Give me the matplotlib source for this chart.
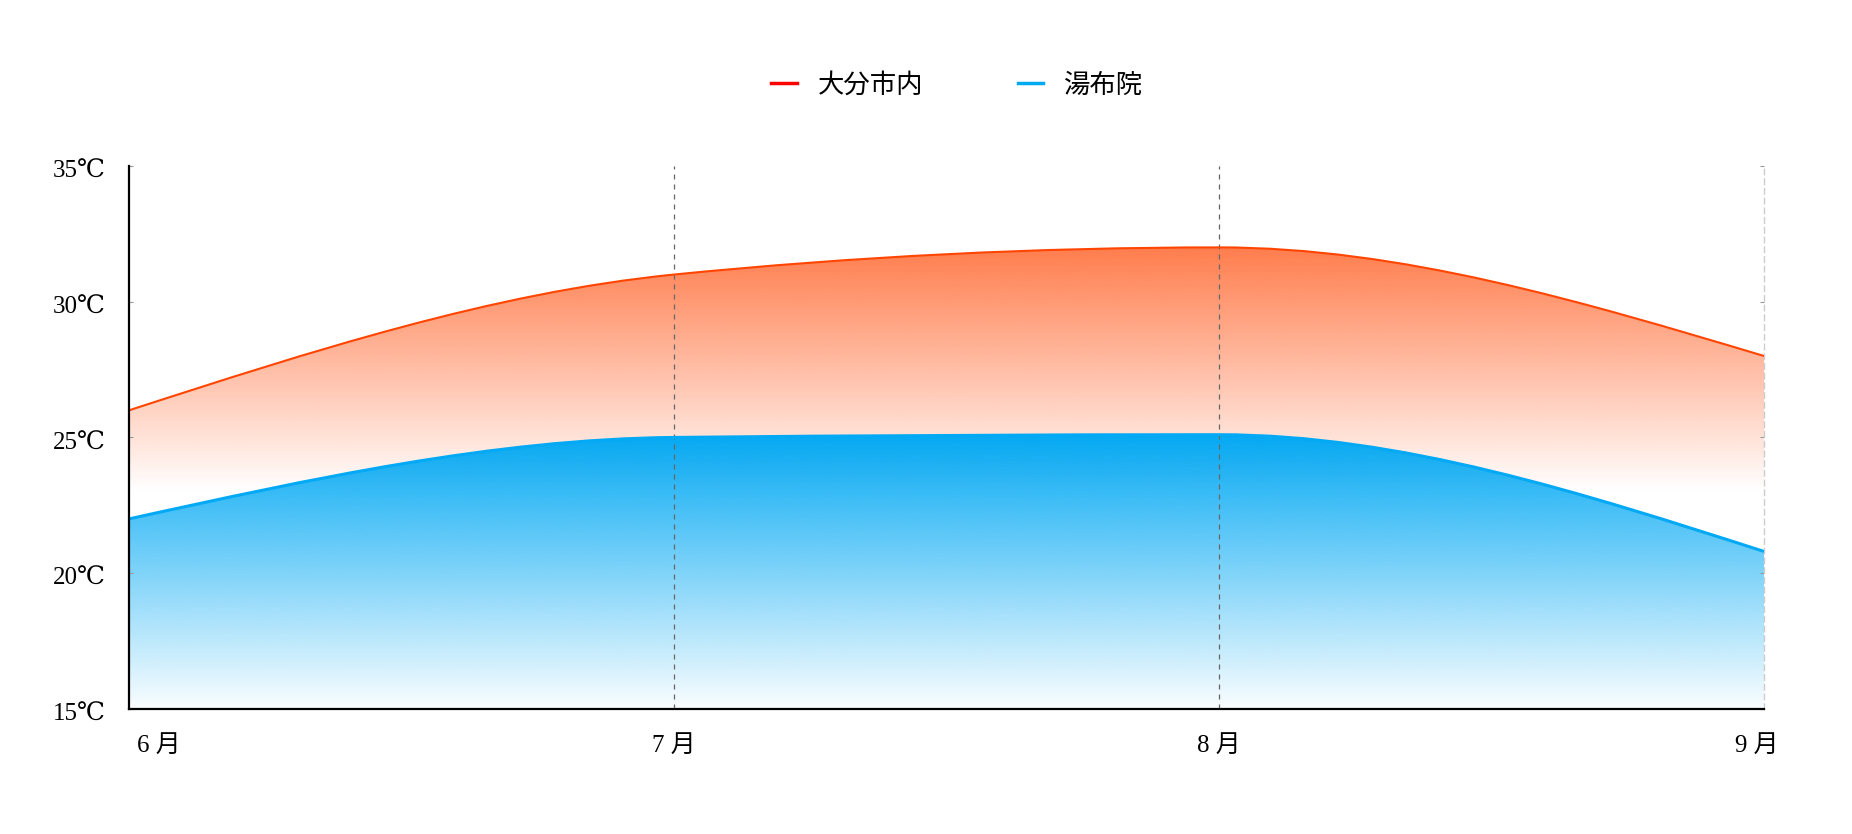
import matplotlib
matplotlib.use('Agg')
import matplotlib.pyplot as plt
import matplotlib.transforms as mtransforms
import numpy as np
from matplotlib.path import Path
from matplotlib.patches import PathPatch
from matplotlib.colors import to_rgb
from matplotlib.lines import Line2D

plt.rcParams['font.family'] = ['Liberation Serif', 'DejaVu Serif', 'Noto Sans CJK JP']

months = ['6 月', '7 月', '8 月', '9 月']
oita = [26, 31, 32, 28]          # 大分市内
yufuin = [22, 25, 25.1, 20.8]    # 湯布院
yticks = [15, 20, 25, 30, 35]
ylabels = ['15℃', '20℃', '25℃', '30℃', '35℃']

red_line = '#FF4500'
blue_line = '#03A9F4'


def monotone_verts(x, y):
    # cubic bezier control points like d3.curveMonotoneX
    x = np.asarray(x, float)
    y = np.asarray(y, float)
    h = np.diff(x)
    s = np.diff(y) / h
    n = len(x)
    m = np.zeros(n)
    for i in range(1, n - 1):
        p = (s[i - 1] * h[i] + s[i] * h[i - 1]) / (h[i - 1] + h[i])
        m[i] = (np.sign(s[i - 1]) + np.sign(s[i])) * min(abs(s[i - 1]), abs(s[i]), 0.5 * abs(p))
    m[0] = (3 * s[0] - m[1]) / 2
    m[-1] = (3 * s[-1] - m[-2]) / 2
    verts = [(x[0], y[0])]
    codes = [Path.MOVETO]
    for i in range(n - 1):
        d = h[i] / 3
        verts += [(x[i] + d, y[i] + m[i] * d), (x[i + 1] - d, y[i + 1] - m[i + 1] * d), (x[i + 1], y[i + 1])]
        codes += [Path.CURVE4] * 3
    return verts, codes


def gradient_area(ax, x, y, color, y0, y1, a0, a1, base=15):
    verts, codes = monotone_verts(x, y)
    fverts = verts + [(x[-1], base), (x[0], base), (x[0], y[0])]
    fcodes = codes + [Path.LINETO, Path.LINETO, Path.CLOSEPOLY]
    patch = PathPatch(Path(fverts, fcodes), facecolor='none', edgecolor='none')
    ax.add_patch(patch)
    yy = np.linspace(base, max(y), 400)
    alpha = np.clip((yy - y0) / (y1 - y0), 0, 1) * (a1 - a0) + a0
    img = np.zeros((len(yy), 1, 4))
    img[:, 0, :3] = to_rgb(color)
    img[:, 0, 3] = alpha
    im = ax.imshow(img, extent=[x[0], x[-1], base, max(y)], origin='lower',
                   aspect='auto', interpolation='bilinear', zorder=1)
    im.set_clip_path(patch)
    line = PathPatch(Path(verts, codes), facecolor='none', zorder=3)
    ax.add_patch(line)
    return line


fig = plt.figure(figsize=(18.52, 8.34), dpi=100)
ax = fig.add_axes([0.0697, 0.150, 0.8828, 0.651])
xs = np.arange(len(months))

l1 = gradient_area(ax, xs, oita, red_line, 23, 32, 0.0, 0.7)
l1.set_edgecolor(red_line)
l1.set_linewidth(1.5)
l2 = gradient_area(ax, xs, yufuin, blue_line, 15, 25.1, 0.02, 1.0)
l2.set_edgecolor(blue_line)
l2.set_linewidth(2.2)
l2.set_zorder(4)

for xv in xs[1:3]:
    ax.axvline(xv, color='#666666', linestyle=(0, (4, 4)), linewidth=0.9, zorder=2)

ax.set_xlim(xs[0], xs[-1])
ax.set_ylim(15, 35)
ax.set_yticks(yticks)
ax.set_yticklabels(ylabels, fontsize=18)
ax.set_xticks(xs)
ax.set_xticklabels(months, fontsize=18)
ax.tick_params(axis='x', length=0, pad=19)
ax.tick_params(axis='y', direction='in', length=3, color='#999999', pad=17, right=True)

for s in ['left', 'bottom']:
    ax.spines[s].set_color('black')
    ax.spines[s].set_linewidth(1.6)
    ax.spines[s].set_zorder(5)
ax.spines['top'].set_visible(False)
ax.spines['right'].set_color('#cccccc')
ax.spines['right'].set_linestyle((0, (4, 3)))
ax.spines['right'].set_linewidth(1.0)

labs = ax.get_xticklabels()
labs[0].set_transform(labs[0].get_transform() + mtransforms.ScaledTranslation(0.30, 0, fig.dpi_scale_trans))
labs[-1].set_transform(labs[-1].get_transform() + mtransforms.ScaledTranslation(-0.07, 0, fig.dpi_scale_trans))
for lab in ax.get_yticklabels():
    lab.set_transform(lab.get_transform() + mtransforms.ScaledTranslation(0, -0.035, fig.dpi_scale_trans))

handles = [Line2D([], [], color='#FF0000', linewidth=2.5),
           Line2D([], [], color='#00AAF0', linewidth=2.5)]
fig.legend(handles, ['大分市内', '湯布院'], loc='center', bbox_to_anchor=(0.517, 0.898),
           ncol=2, frameon=False, fontsize=19, handlelength=0.95, handletextpad=0.8,
           columnspacing=3.6)

fig.savefig('out.png', dpi=100)
